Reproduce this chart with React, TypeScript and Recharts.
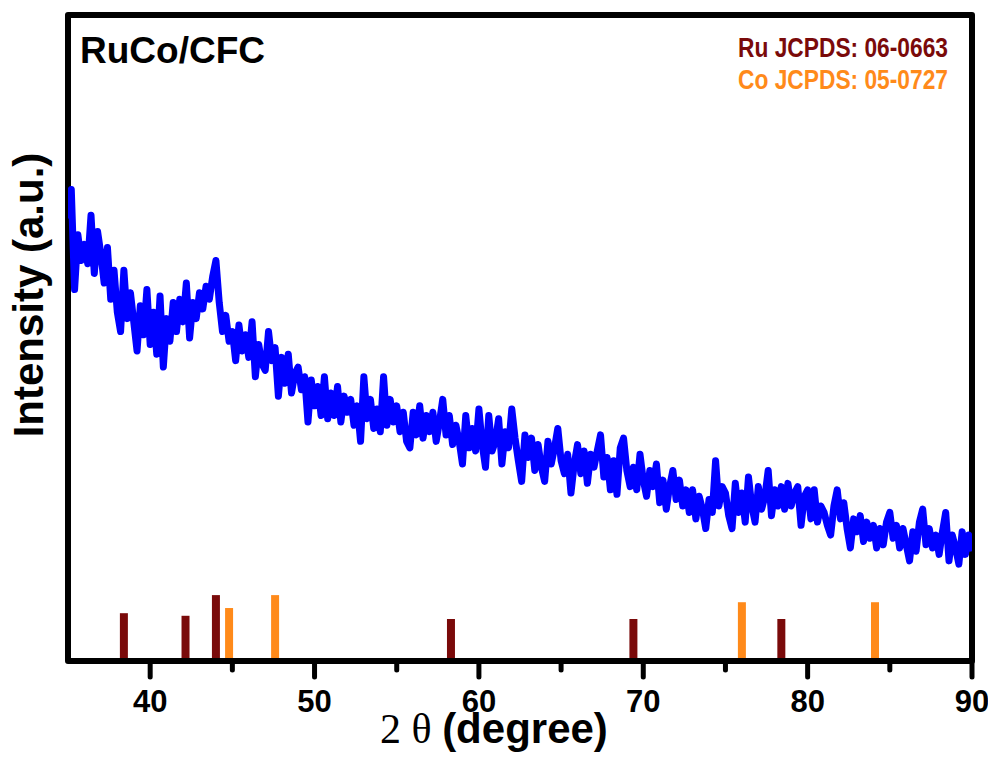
import {
  ComposedChart,
  Line,
  XAxis,
  YAxis,
  ReferenceArea,
  ReferenceLine,
} from "recharts";

// 2θ sampling of the scan (degrees)
const ANGLE_START = 35;
const ANGLE_STEP = 0.2;

// Intensity, one row per 2 degrees (35.0 ... 90.0)
const intensity = [
  68.5, 73.0, 57.5, 66.0, 62.0, 64.5, 61.5, 69.0, 60.0, 66.5,
  63.0, 58.5, 64.0, 56.0, 60.5, 54.0, 51.0, 60.5, 53.0, 57.0,
  52.5, 48.0, 55.0, 50.5, 57.5, 49.0, 54.0, 47.5, 56.5, 45.5,
  53.0, 49.5, 55.5, 51.0, 56.0, 52.5, 58.5, 50.0, 55.5, 53.0,
  57.0, 54.5, 58.0, 56.0, 59.5, 62.0, 55.5, 51.0, 53.5, 49.5,
  51.0, 46.5, 52.0, 48.0, 50.5, 47.0, 52.5, 44.0, 49.0, 46.0,
  45.0, 51.0, 46.5, 48.5, 41.0, 47.0, 43.0, 47.5, 41.5, 44.5,
  45.5, 42.0, 44.0, 37.0, 43.5, 39.5, 42.5, 38.0, 44.0, 37.5,
  41.5, 38.0, 42.5, 37.0, 41.0, 38.5, 40.5, 36.5, 39.5, 34.0,
  44.0, 37.5, 40.5, 36.0, 39.0, 35.5, 44.0, 36.5, 40.5, 37.0,
  39.5, 35.5, 38.5, 34.0, 33.0, 38.5, 35.0, 39.5, 34.5, 38.0,
  35.5, 38.5, 34.0, 37.0, 40.5, 35.0, 38.0, 33.5, 36.5, 34.0,
  30.5, 38.0, 33.0, 36.0, 32.5, 39.0, 33.5, 30.0, 38.0, 32.5,
  34.0, 37.5, 30.5, 35.5, 33.0, 39.0, 34.5, 31.0, 27.8, 35.0,
  31.5, 34.5, 29.5, 33.5, 30.0, 27.8, 34.0, 30.5, 33.0, 36.0,
  31.0, 29.0, 32.0, 26.0, 30.5, 33.5, 29.0, 32.5, 27.5, 32.0,
  30.0, 32.5, 35.0, 28.5, 31.5, 26.5, 31.0, 25.8, 33.0, 34.5,
  29.5, 27.0, 30.0, 26.5, 32.0, 28.0, 25.5, 29.5, 27.0, 30.5,
  24.5, 28.0, 23.5, 27.0, 29.5, 25.0, 28.0, 24.0, 26.5, 23.0,
  26.5, 22.0, 25.5, 23.5, 20.5, 25.0, 23.0, 31.0, 24.0, 27.0,
  26.0, 22.5, 20.5, 27.5, 23.0, 26.0, 21.5, 28.5, 24.0, 21.5,
  27.0, 23.5, 25.5, 29.5, 22.5, 26.5, 24.0, 27.0, 23.5, 27.5,
  24.0, 26.0, 27.0, 21.0, 25.5, 26.5, 22.0, 26.5, 21.5, 24.0,
  23.0, 21.0, 19.5, 24.0, 26.5, 22.0, 24.5, 20.5, 17.5, 22.0,
  20.0, 22.5, 18.5, 21.5, 19.0, 21.0, 17.5, 20.5, 18.0, 21.5,
  23.0, 19.0, 21.0, 17.5, 20.5, 18.0, 15.5, 20.0, 17.0, 21.5,
  23.5, 18.0, 20.5, 17.5, 19.5, 16.5, 20.0, 23.0, 15.5, 19.5,
  17.5, 15.0, 20.0, 16.5, 19.5, 17.0,
];

// reference patterns (stick positions and relative heights)
const ruAngles = [38.4, 42.15, 44.0, 58.3, 69.4, 78.4];
const ruHeights = [7.4, 7.0, 10.2, 6.5, 6.5, 6.5];
const coAngles = [44.8, 47.6, 76.0, 84.1];
const coHeights = [8.2, 10.2, 9.1, 9.1];

const xTicks = [40, 45, 50, 55, 60, 65, 70, 75, 80, 85, 90];
const xLabels = [40, 50, 60, 70, 80, 90];

const RU_COLOR = "#7a0a0a";
const CO_COLOR = "#ff8a1a";
const SANS = "'Liberation Sans', Arial, sans-serif";
const SERIF = "'Liberation Serif', 'Times New Roman', serif";

const data = intensity.map((v, i) => ({
  tt: Math.round((ANGLE_START + i * ANGLE_STEP) * 10) / 10,
  v,
}));

function XTick(props: any) {
  const { x, y, payload } = props;
  const major = xLabels.includes(payload.value);
  return (
    <g>
      <line
        x1={x}
        x2={x}
        y1={y}
        y2={y + (major ? 16 : 9)}
        stroke="#000"
        strokeWidth={5}
        strokeLinecap="round"
      />
      {major && (
        <text
          x={x}
          y={y + 51}
          textAnchor="middle"
          fontFamily={SANS}
          fontWeight="bold"
          fontSize={31}
          fill="#000"
        >
          {payload.value}
        </text>
      )}
    </g>
  );
}

export default function App() {
  return (
    <ComposedChart
      width={980}
      height={750}
      data={data}
      margin={{ top: 7, right: 16, left: 0, bottom: 0 }}
    >
      <XAxis
        dataKey="tt"
        type="number"
        domain={[35, 90]}
        ticks={xTicks}
        allowDataOverflow
        height={97}
        tickSize={0}
        tickMargin={0}
        tickLine={false}
        tick={<XTick />}
        axisLine={{ stroke: "#000", strokeWidth: 6 }}
        interval={0}
      />
      <YAxis
        type="number"
        domain={[0, 100]}
        allowDataOverflow
        width={60}
        tick={false}
        tickLine={false}
        axisLine={false}
      />
      {ruAngles.map((a, i) => (
        <ReferenceLine
          key={"ru" + a}
          segment={[
            { x: a, y: 0 },
            { x: a, y: ruHeights[i] },
          ]}
          stroke={RU_COLOR}
          strokeWidth={8}
        />
      ))}
      {coAngles.map((a, i) => (
        <ReferenceLine
          key={"co" + a}
          segment={[
            { x: a, y: 0 },
            { x: a, y: coHeights[i] },
          ]}
          stroke={CO_COLOR}
          strokeWidth={8}
        />
      ))}
      <Line
        type="linear"
        dataKey="v"
        stroke="#0000ff"
        strokeWidth={7}
        strokeLinejoin="round"
        dot={false}
        activeDot={false}
        isAnimationActive={false}
      />
      <ReferenceArea
        x1={35}
        x2={90}
        y1={0}
        y2={100}
        fill="none"
        fillOpacity={0}
        stroke="#000"
        strokeWidth={6}
        strokeLinejoin="round"
      />
      <text x={72} y={55} fontFamily={SANS} fontWeight="bold" fontSize={36} textLength={185} lengthAdjust="spacingAndGlyphs" fill="#000">
        RuCo/CFC
      </text>
      <text x={730} y={49} fontFamily={SANS} fontWeight="bold" fontSize={27} textLength={210} lengthAdjust="spacingAndGlyphs" fill={RU_COLOR}>
        Ru JCPDS: 06-0663
      </text>
      <text x={730} y={81} fontFamily={SANS} fontWeight="bold" fontSize={27} textLength={210} lengthAdjust="spacingAndGlyphs" fill={CO_COLOR}>
        Co JCPDS: 05-0727
      </text>
      <text
        x={35}
        y={287}
        transform="rotate(-90, 35, 287)"
        textAnchor="middle"
        fontFamily={SANS}
        fontWeight="bold"
        fontSize={42}
        fill="#000"
      >
        Intensity (a.u.)
      </text>
      <text x={372} y={735} fontSize={42} fill="#000">
        <tspan fontFamily={SERIF}>2 θ </tspan>
        <tspan fontFamily={SANS} fontWeight="bold">(degree)</tspan>
      </text>
    </ComposedChart>
  );
}
